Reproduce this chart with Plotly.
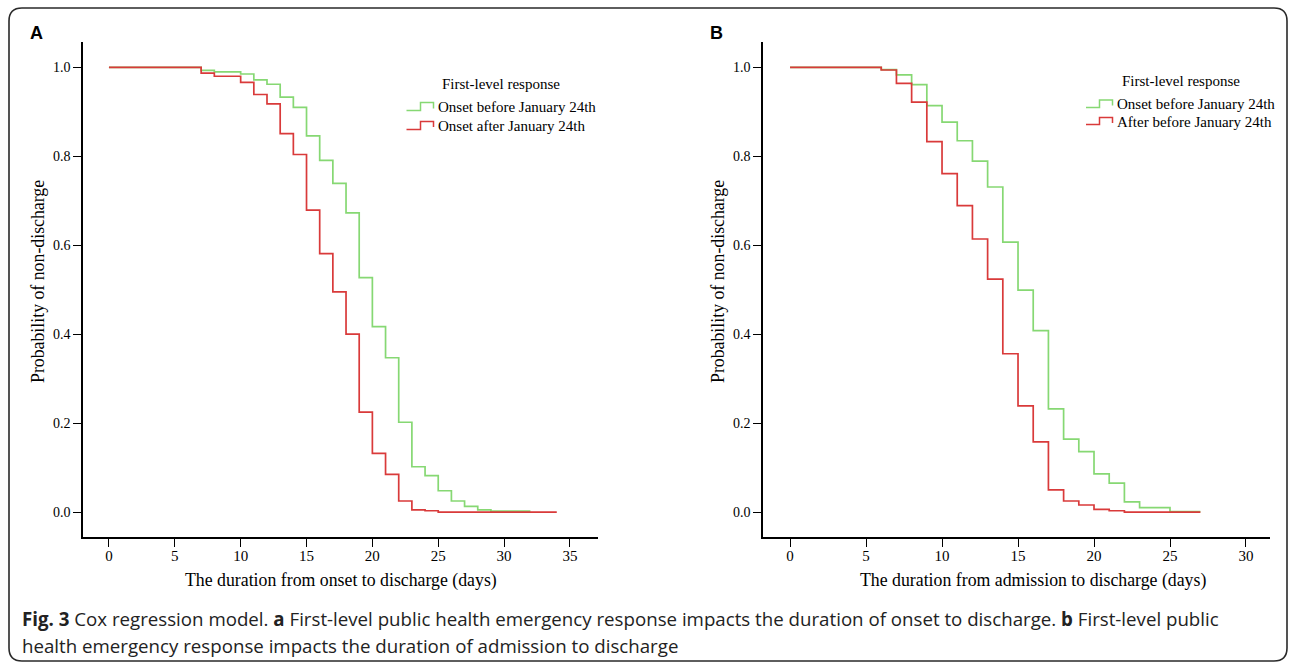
import plotly.graph_objects as go

W, H = 1290, 664

# ---------------- data ----------------
# Panel A: duration from onset to discharge (days)
days_a_before = [0, 7, 8, 10, 11, 12, 13, 14, 15, 16, 17, 18, 19, 20, 21, 22, 23, 24, 25, 26, 27, 28, 29, 32]
surv_a_before = [1.0, 0.993, 0.990, 0.985, 0.972, 0.962, 0.933, 0.910, 0.846, 0.791, 0.739, 0.673, 0.527,
                 0.417, 0.347, 0.202, 0.102, 0.082, 0.048, 0.025, 0.013, 0.005, 0.002, 0.002]
days_a_after = [0, 7, 8, 10, 11, 12, 13, 14, 15, 16, 17, 18, 19, 20, 21, 22, 23, 24, 25, 34]
surv_a_after = [1.0, 0.987, 0.980, 0.966, 0.939, 0.918, 0.851, 0.804, 0.679, 0.581, 0.495, 0.400, 0.225,
                0.132, 0.085, 0.025, 0.005, 0.003, 0.0, 0.0]

# Panel B: duration from admission to discharge (days)
days_b_before = [0, 6, 7, 8, 9, 10, 11, 12, 13, 14, 15, 16, 17, 18, 19, 20, 21, 22, 23, 25, 27]
surv_b_before = [1.0, 0.995, 0.983, 0.961, 0.914, 0.877, 0.835, 0.789, 0.731, 0.607, 0.499, 0.408, 0.232,
                 0.164, 0.136, 0.086, 0.065, 0.023, 0.010, 0.001, 0.001]
days_b_after = [0, 6, 7, 8, 9, 10, 11, 12, 13, 14, 15, 16, 17, 18, 19, 20, 21, 22, 27]
surv_b_after = [1.0, 0.994, 0.964, 0.922, 0.833, 0.761, 0.689, 0.614, 0.524, 0.356, 0.239, 0.158, 0.050,
                0.025, 0.016, 0.006, 0.003, 0.0, 0.0]

x_ticks_a = [0, 5, 10, 15, 20, 25, 30, 35]
x_ticks_b = [0, 5, 10, 15, 20, 25, 30]
y_ticks = [0.0, 0.2, 0.4, 0.6, 0.8, 1.0]
y_tick_text = ["0.0", "0.2", "0.4", "0.6", "0.8", "1.0"]

legend_title = "First-level response"
legend_a = ["Onset before January 24th", "Onset after January 24th"]
legend_b = ["Onset before January 24th", "After before January 24th"]
xtitle_a = "The duration from onset to discharge (days)"
xtitle_b = "The duration from admission to discharge (days)"
ytitle = "Probability of non-discharge"
caption1 = ("<b>Fig. 3</b> Cox regression model. <b>a</b> First-level public health emergency response impacts "
            "the duration of onset to discharge. <b>b</b> First-level public")
caption2 = "health emergency response impacts the duration of admission to discharge"

GREEN = "#86d873"
RED = "#d93a3a"
SERIF = "Liberation Serif"
SANS = "Open Sans"


def px(x):
    return x / W


def py(y):
    return 1 - y / H


fig = go.Figure()
fig.add_trace(go.Scatter(x=days_a_before, y=surv_a_before, mode="lines",
                         line=dict(color=GREEN, width=1.7, shape="hv"), xaxis="x", yaxis="y"))
fig.add_trace(go.Scatter(x=days_a_after, y=surv_a_after, mode="lines",
                         line=dict(color=RED, width=1.7, shape="hv"), xaxis="x", yaxis="y"))
fig.add_trace(go.Scatter(x=days_b_before, y=surv_b_before, mode="lines",
                         line=dict(color=GREEN, width=1.7, shape="hv"), xaxis="x2", yaxis="y2"))
fig.add_trace(go.Scatter(x=days_b_after, y=surv_b_after, mode="lines",
                         line=dict(color=RED, width=1.7, shape="hv"), xaxis="x2", yaxis="y2"))

axis_common = dict(showgrid=False, zeroline=False, showline=True, linecolor="black", linewidth=1.6,
                   ticks="outside", ticklen=8, tickwidth=1.4, tickcolor="black",
                   automargin=False, fixedrange=True)
xfont = dict(family=SERIF, size=15, color="black")
yfont = dict(family=SERIF, size=14, color="black")

ydom = [py(537), py(42)]
fig.update_layout(
    width=W, height=H, margin=dict(l=0, r=0, t=0, b=0),
    paper_bgcolor="white", plot_bgcolor="white", showlegend=False,
    xaxis=dict(domain=[px(83), px(598)], range=[-1.97, 37.13], tickvals=x_ticks_a, anchor="y",
               tickfont=xfont, ticklabelstandoff=-4, **axis_common),
    yaxis=dict(domain=ydom, range=[-0.056, 1.057], tickvals=y_ticks, ticktext=y_tick_text, anchor="x",
               tickfont=yfont, **axis_common),
    xaxis2=dict(domain=[px(763), px(1270)], range=[-1.78, 31.58], tickvals=x_ticks_b, anchor="y2",
                tickfont=xfont, ticklabelstandoff=-4, **axis_common),
    yaxis2=dict(domain=ydom, range=[-0.056, 1.057], tickvals=y_ticks, ticktext=y_tick_text, anchor="x2",
                tickfont=yfont, **axis_common),
)

shapes = []
# rounded frame
x0, y0, x1, y1, r = 9, 8, 1287, 661, 13
frame = (f"M {px(x0)},{py(y0 + r)} Q {px(x0)},{py(y0)} {px(x0 + r)},{py(y0)} "
         f"L {px(x1 - r)},{py(y0)} Q {px(x1)},{py(y0)} {px(x1)},{py(y0 + r)} "
         f"L {px(x1)},{py(y1 - r)} Q {px(x1)},{py(y1)} {px(x1 - r)},{py(y1)} "
         f"L {px(x0 + r)},{py(y1)} Q {px(x0)},{py(y1)} {px(x0)},{py(y1 - r)} Z")
shapes.append(dict(type="path", path=frame, xref="paper", yref="paper",
                   line=dict(color="#2a2a2a", width=1.6), fillcolor="rgba(0,0,0,0)", layer="below"))


def step_symbol(xl, xm, xr, ylow, yhigh, yend, color):
    p = (f"M {px(xl)},{py(ylow)} L {px(xm)},{py(ylow)} L {px(xm)},{py(yhigh)} "
         f"L {px(xr)},{py(yhigh)} L {px(xr)},{py(yend)}")
    return dict(type="path", path=p, xref="paper", yref="paper", line=dict(color=color, width=1.5))


# legend A symbols
shapes.append(step_symbol(406.5, 420.5, 433.5, 110.5, 102.5, 108.5, GREEN))
shapes.append(step_symbol(406.5, 420.5, 433.5, 129.5, 121.5, 127.0, RED))
# legend B symbols
shapes.append(step_symbol(1086, 1099.5, 1112.5, 107.5, 100.0, 105.5, GREEN))
shapes.append(step_symbol(1086, 1099.5, 1112.5, 124.5, 117.5, 123.0, RED))
fig.update_layout(shapes=shapes)

ann = []


def text(x, y, s, size, family=SERIF, xanchor="center", yanchor="middle", angle=0, color="black"):
    ann.append(dict(x=px(x), y=py(y), xref="paper", yref="paper", text=s, showarrow=False,
                    xanchor=xanchor, yanchor=yanchor, textangle=angle,
                    font=dict(family=family, size=size, color=color)))


# panel labels
text(28, 33, "<b>A</b>", 18, family="Liberation Sans", xanchor="left")
text(708, 33, "<b>B</b>", 18, family="Liberation Sans", xanchor="left")
# legends
text(500.5, 84, legend_title, 15)
text(436, 106.5, legend_a[0], 15, xanchor="left")
text(436, 126, legend_a[1], 15, xanchor="left")
text(1181, 81.5, legend_title, 15)
text(1115, 104, legend_b[0], 15, xanchor="left")
text(1115, 122.5, legend_b[1], 15, xanchor="left")
# axis titles
text(341, 580, xtitle_a, 17.8)
text(1033, 580, xtitle_b, 17.8)
text(38, 282, ytitle, 17.8, angle=-90)
text(718, 282, ytitle, 17.8, angle=-90)
# caption
text(20, 618, caption1, 18.7, family=SANS, xanchor="left", color="#222222")
text(20, 645, caption2, 18.7, family=SANS, xanchor="left", color="#222222")
fig.update_layout(annotations=ann)

fig.write_html("out.html", config={"displayModeBar": False},
               post_script="document.body.style.margin='0';document.body.style.overflow='hidden';")
